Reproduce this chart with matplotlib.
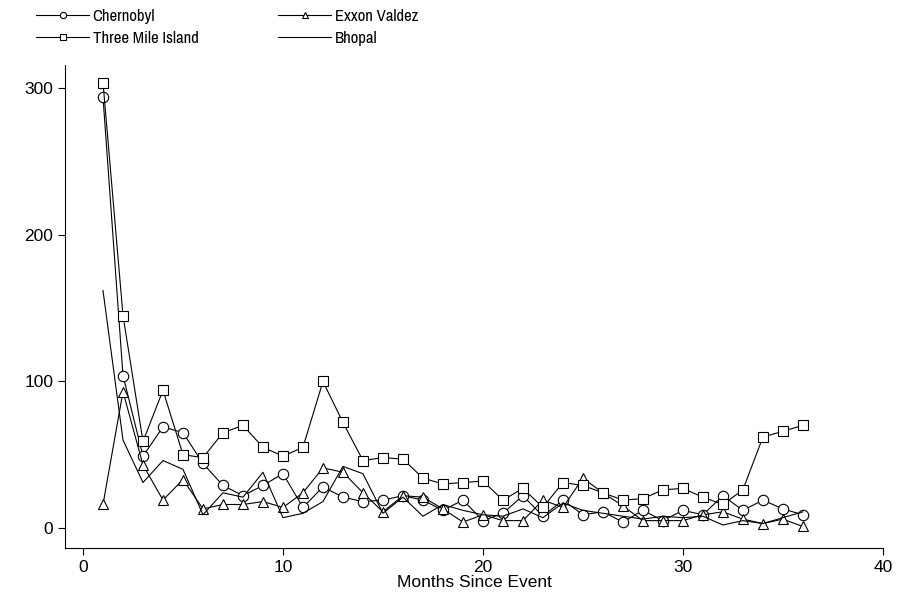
import matplotlib
matplotlib.use("Agg")
import matplotlib.pyplot as plt
from matplotlib import font_manager

plt.rcParams['font.family'] = ['Liberation Sans', 'DejaVu Sans']

months = list(range(1, 37))
chernobyl = [294, 104, 49, 69, 65, 44, 29, 22, 29, 37, 14, 28, 21, 18, 19, 22, 19, 12,
             19, 5, 10, 22, 8, 19, 9, 11, 4, 12, 5, 12, 9, 22, 12, 19, 13, 9]
three_mile = [304, 145, 59, 94, 50, 48, 65, 70, 55, 49, 55, 100, 72, 46, 48, 47, 34, 30,
              31, 32, 19, 27, 14, 31, 29, 24, 19, 20, 26, 27, 21, 16, 26, 62, 66, 70]
exxon = [16, 93, 43, 19, 33, 13, 16, 16, 18, 14, 24, 41, 38, 24, 11, 22, 21, 13,
         4, 9, 5, 5, 19, 14, 34, 24, 15, 5, 5, 5, 9, 11, 6, 3, 6, 1]
bhopal = [162, 60, 31, 46, 40, 9, 24, 21, 38, 7, 10, 18, 42, 37, 10, 21, 8, 16,
          12, 9, 8, 13, 7, 17, 12, 10, 8, 6, 8, 7, 8, 2, 5, 3, 7, 11]

fig = plt.figure(figsize=(9.13, 6.05), dpi=100)
ax = fig.add_axes([0.0712, 0.0942, 0.8958, 0.7984])

kw = dict(color='black', lw=0.8, mfc='white', mec='black', mew=0.8, ms=7.5)
l1, = ax.plot(months, chernobyl, marker='o', label='Chernobyl', **kw)
l3, = ax.plot(months, exxon, marker='^', label='Exxon Valdez', **kw)
l2, = ax.plot(months, three_mile, marker='s', label='Three Mile Island', **kw)
l4, = ax.plot(months, bhopal, color='black', lw=0.8, label='Bhopal')

ax.set_xlim(-0.9, 40)
ax.set_ylim(-13.7, 316)
ax.set_xticks([0, 10, 20, 30, 40])
ax.set_yticks([0, 100, 200, 300])
for s in ['top', 'right']:
    ax.spines[s].set_visible(False)
for s in ['left', 'bottom']:
    ax.spines[s].set_linewidth(0.8)
ax.tick_params(labelsize=12.5, length=5, width=0.8)
ax.set_xlabel('Months Since Event', fontsize=12.5, labelpad=0)

# legend text is condensed in the original; use a narrow face if one exists
names = sorted({f.name for f in font_manager.fontManager.ttflist})
narrow = [n for n in names if 'Narrow' in n or 'Condensed' in n]
if narrow:
    leg_font = font_manager.FontProperties(family=narrow[0], size=12)
else:
    leg_font = font_manager.FontProperties(family='Liberation Sans', size=11)

leg_kw = dict(frameon=False, prop=leg_font, handlelength=3.2, handletextpad=0.2,
              labelspacing=0.42, borderpad=0, borderaxespad=0, loc='upper left',
              markerscale=0.6)
fig.legend([l1, l2], ['Chernobyl', 'Three Mile Island'],
           bbox_to_anchor=(36 / 913, 1 - 9 / 605), **leg_kw)
fig.legend([l3, l4], ['Exxon Valdez', 'Bhopal'],
           bbox_to_anchor=(278 / 913, 1 - 9 / 605), **leg_kw)

fig.savefig('out.png', dpi=100)
